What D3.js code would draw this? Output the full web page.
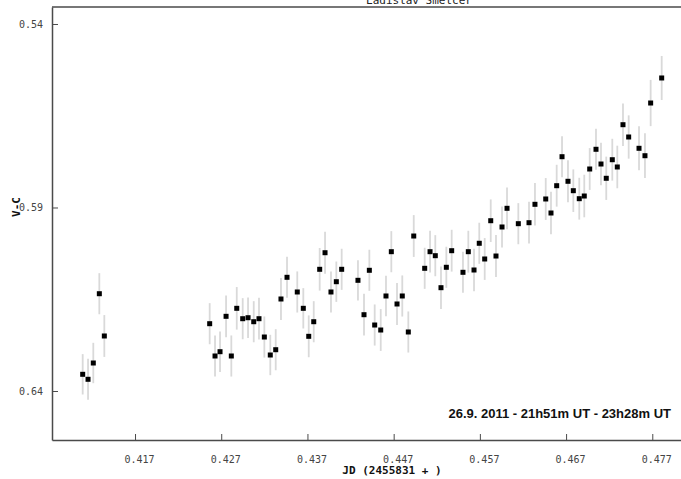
<!DOCTYPE html>
<html>
<head>
<meta charset="utf-8">
<script src="https://cdn.jsdelivr.net/npm/d3@7/dist/d3.min.js"></script>
<style>
  html, body { margin: 0; padding: 0; background: #ffffff; }
  svg { display: block; }
</style>
</head>
<body>
<svg id="chart" width="681" height="479"></svg>
<script>
// Light curve: V-C differential magnitude vs. JD fraction
const jd = [
  0.41093, 0.41155, 0.41216, 0.41286, 0.41344,
  0.42566, 0.42628, 0.42686, 0.42756, 0.42817, 0.42880, 0.42949, 0.43011, 0.43077, 0.43138,
  0.43200, 0.43269, 0.43332, 0.43393, 0.43463, 0.43582, 0.43652, 0.43715, 0.43773, 0.43842,
  0.43904, 0.43973, 0.44035, 0.44097, 0.44286, 0.44356, 0.44418, 0.44480, 0.44550, 0.44611,
  0.44673, 0.44739, 0.44800, 0.44870, 0.44933, 0.45060, 0.45122, 0.45183, 0.45249, 0.45311,
  0.45373, 0.45504, 0.45566, 0.45632, 0.45693, 0.45756, 0.45826, 0.45887, 0.45957, 0.46015,
  0.46146, 0.46270, 0.46339, 0.46464, 0.46525, 0.46591, 0.46653, 0.46722, 0.46784, 0.46853,
  0.46911, 0.46974, 0.47047, 0.47105, 0.47166, 0.47236, 0.47294, 0.47360, 0.47426, 0.47546,
  0.47615, 0.47681, 0.47809
];
const vc = [
  0.63545, 0.63681, 0.63237, 0.61349, 0.62501,
  0.62166, 0.63046, 0.62929, 0.61965, 0.63046, 0.61747, 0.62030, 0.62003, 0.62112, 0.62030,
  0.62529, 0.63019, 0.62875, 0.61493, 0.60902, 0.61302, 0.61747, 0.62510, 0.62112, 0.60684,
  0.60232, 0.61302, 0.61022, 0.60684, 0.60984, 0.61921, 0.60711, 0.62202, 0.62338, 0.61411,
  0.60204, 0.61629, 0.61411, 0.62392, 0.59777, 0.60657, 0.60204, 0.60313, 0.61185, 0.60629,
  0.60177, 0.60766, 0.60204, 0.60703, 0.59975, 0.60403, 0.59360, 0.60322, 0.59531, 0.59022,
  0.59441, 0.59414, 0.58913, 0.58768, 0.59150, 0.58406, 0.57616, 0.58286, 0.58542, 0.58760,
  0.58687, 0.57951, 0.57414, 0.57815, 0.58204, 0.57698, 0.57896, 0.56744, 0.57079, 0.57387,
  0.57589, 0.56153, 0.55471
];
const err = [
  0.0055, 0.0056, 0.0055, 0.0056, 0.0057,
  0.0056, 0.0056, 0.0055, 0.0057, 0.0056, 0.0058, 0.0056, 0.0055, 0.0056, 0.0057,
  0.0056, 0.0055, 0.0056, 0.0057, 0.0056, 0.0056, 0.0055, 0.0057, 0.0056, 0.0058,
  0.0057, 0.0056, 0.0055, 0.0056, 0.0055, 0.0057, 0.0056, 0.0056, 0.0057, 0.0055,
  0.0056, 0.0057, 0.0056, 0.0056, 0.0057, 0.0056, 0.0057, 0.0056, 0.0058, 0.0056,
  0.0057, 0.0056, 0.0057, 0.0058, 0.0056, 0.0057, 0.0058, 0.0057, 0.0056, 0.0057,
  0.0056, 0.0057, 0.0058, 0.0057, 0.0058, 0.0057, 0.0056, 0.0057, 0.0058, 0.0057,
  0.0058, 0.0057, 0.0056, 0.0058, 0.0059, 0.0057, 0.0058, 0.0058, 0.0059, 0.0060,
  0.0061, 0.0063, 0.0060
];

const xTicks = [0.417, 0.427, 0.437, 0.447, 0.457, 0.467, 0.477];
const xTickLabels = ["0.417", "0.427", "0.437", "0.447", "0.457", "0.467", "0.477"];
const yTicks = [0.54, 0.59, 0.64];
const yTickLabels = ["0.54", "0.59", "0.64"];

const titleText = "Ladislav Smelcer";
const xTitle = "JD (2455831 + )";
const yTitle = "V-C";
const noteText = "26.9. 2011 - 21h51m UT - 23h28m UT";

const svg = d3.select("#chart");
const plot = { left: 52, top: 7, right: 681, bottom: 440 };

const x = d3.scaleLinear().domain([0.40737, 0.48033]).range([plot.left, plot.right]);
const y = d3.scaleLinear().domain([0.53537, 0.65335]).range([plot.top, plot.bottom]);

const points = jd.map((d, i) => ({ jd: d, v: vc[i], e: err[i] }));

// error bars
svg.append("g")
  .selectAll("line")
  .data(points)
  .join("line")
  .attr("x1", d => x(d.jd))
  .attr("x2", d => x(d.jd))
  .attr("y1", d => y(d.v - d.e))
  .attr("y2", d => y(d.v + d.e))
  .attr("stroke", "#d9d9d9")
  .attr("stroke-width", 1.8);

// measurements
const s = 5;
svg.append("g")
  .selectAll("rect")
  .data(points)
  .join("rect")
  .attr("x", d => x(d.jd) - s / 2)
  .attr("y", d => y(d.v) - s / 2)
  .attr("width", s)
  .attr("height", s)
  .attr("fill", "#000");

const axisColor = "#4a4a4a";
const monoFont = "'DejaVu Sans Mono', 'Liberation Mono', monospace";

// bottom axis, ticks pointing into the plot
const xAxis = d3.axisBottom(x)
  .tickValues(xTicks)
  .tickFormat((d, i) => xTickLabels[i])
  .tickSizeInner(-6)
  .tickSizeOuter(0)
  .tickPadding(16);
const gx = svg.append("g").attr("transform", `translate(0,${plot.bottom})`).call(xAxis);
gx.select(".domain").attr("stroke", axisColor).attr("stroke-width", 1.5);
gx.selectAll(".tick line").attr("stroke", axisColor);
gx.selectAll(".tick text")
  .attr("dx", 4)
  .attr("fill", "#444")
  .style("font-family", monoFont)
  .style("font-size", "10px");

// left axis
const yAxis = d3.axisLeft(y)
  .tickValues(yTicks)
  .tickFormat((d, i) => yTickLabels[i])
  .tickSizeInner(-6)
  .tickSizeOuter(0)
  .tickPadding(9);
const gy = svg.append("g").attr("transform", `translate(${plot.left},0)`).call(yAxis);
gy.select(".domain").attr("stroke", axisColor).attr("stroke-width", 1.5);
gy.selectAll(".tick line").attr("stroke", axisColor);
gy.selectAll(".tick text")
  .attr("fill", "#444")
  .style("font-family", monoFont)
  .style("font-size", "10px");

// top frame line
svg.append("line")
  .attr("x1", plot.left).attr("x2", plot.right)
  .attr("y1", plot.top).attr("y2", plot.top)
  .attr("stroke", axisColor).attr("stroke-width", 1.5);

// observer name at the very top edge
svg.append("text")
  .attr("x", 419).attr("y", 4)
  .attr("text-anchor", "middle")
  .style("font-family", monoFont)
  .style("font-size", "11px")
  .attr("fill", "#222")
  .text(titleText);

// axis titles
svg.append("text")
  .attr("x", 392).attr("y", 474)
  .attr("text-anchor", "middle")
  .style("font-family", monoFont)
  .style("font-size", "11px")
  .style("font-weight", "bold")
  .attr("fill", "#111")
  .text(xTitle);

svg.append("text")
  .attr("transform", "translate(20,207) rotate(-90)")
  .attr("text-anchor", "middle")
  .style("font-family", monoFont)
  .style("font-size", "11px")
  .style("font-weight", "bold")
  .attr("fill", "#111")
  .text(yTitle);

// observing window note
svg.append("text")
  .attr("x", 671).attr("y", 418)
  .attr("text-anchor", "end")
  .style("font-family", "'Liberation Sans', Arial, sans-serif")
  .style("font-size", "13px")
  .style("font-weight", "bold")
  .attr("fill", "#111")
  .text(noteText);
</script>
</body>
</html>
